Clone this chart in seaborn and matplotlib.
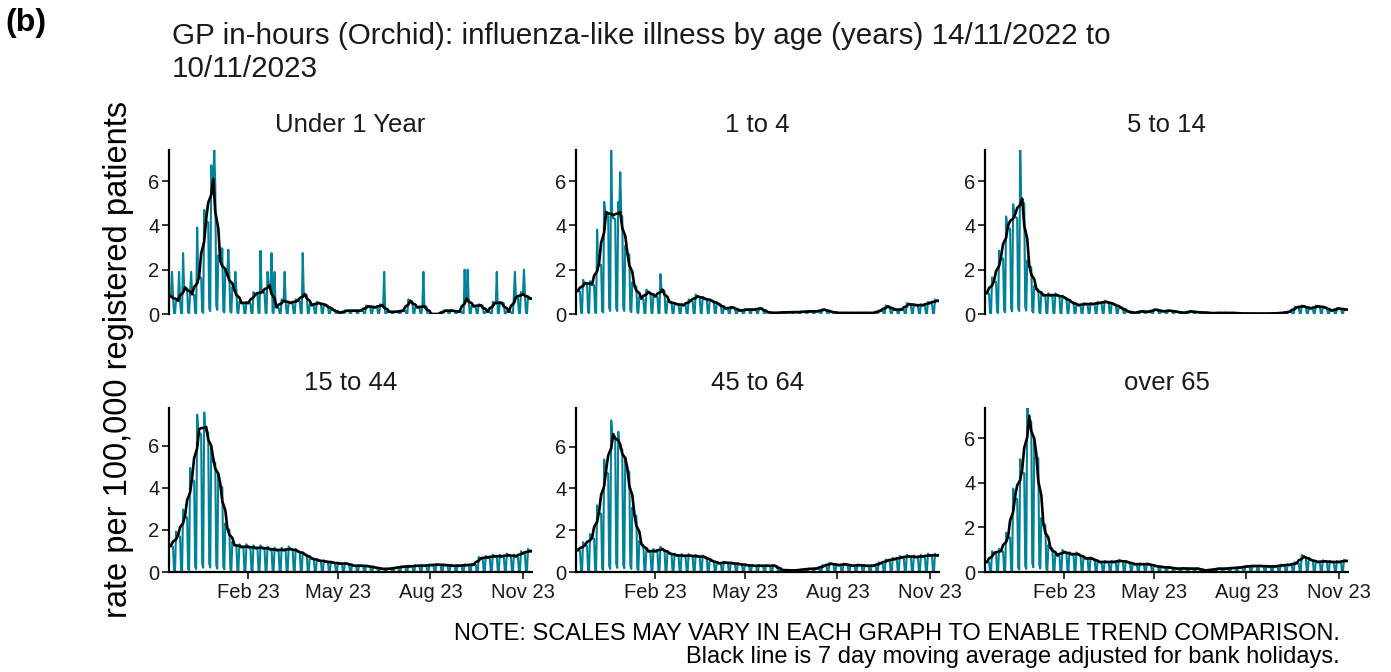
import numpy as np
import pandas as pd
import matplotlib
matplotlib.use("Agg")
import matplotlib.pyplot as plt
import matplotlib.dates as mdates
import seaborn as sns

# ---------------- data ----------------
start_date = "2022-11-14"
end_date = "2023-11-10"

panels = ["Under 1 Year", "1 to 4", "5 to 14", "15 to 44", "45 to 64", "over 65"]

# weekly level of the moving average (weeks starting Monday 14/11/2022)
under_1 = [0.8, 0.6, 1.2, 0.9, 1.7, 4.3, 6.1, 2.4, 1.8, 1.1, 0.5, 0.5, 0.9, 1.0, 1.3, 0.3,
           0.6, 0.5, 0.6, 0.9, 0.4, 0.5, 0.4, 0.2, 0.05, 0.15, 0.15, 0.15, 0.35, 0.3, 0.4, 0.1,
           0.1, 0.15, 0.6, 0.3, 0.35, 0.0, 0.0, 0.15, 0.15, 0.1, 0.7, 0.35, 0.4, 0.1, 0.5, 0.5,
           0.1, 0.75, 0.9, 0.7]
age_1_4 = [1.05, 1.4, 1.35, 2.3, 4.6, 4.45, 4.6, 2.8, 1.3, 0.7, 1.0, 0.8, 1.1, 0.55, 0.45, 0.4,
           0.6, 0.8, 0.7, 0.6, 0.45, 0.25, 0.3, 0.15, 0.2, 0.2, 0.25, 0.08, 0.05, 0.07, 0.08, 0.08,
           0.1, 0.12, 0.12, 0.2, 0.1, 0.05, 0.05, 0.05, 0.05, 0.05, 0.05, 0.15, 0.35, 0.2, 0.2, 0.45,
           0.4, 0.4, 0.5, 0.6]
age_5_14 = [0.95, 1.5, 2.6, 4.0, 4.5, 5.2, 2.2, 1.15, 0.85, 0.85, 0.85, 0.75, 0.55, 0.4, 0.45, 0.45,
            0.5, 0.55, 0.45, 0.3, 0.12, 0.05, 0.12, 0.1, 0.2, 0.12, 0.15, 0.1, 0.05, 0.12, 0.08, 0.07,
            0.04, 0.05, 0.05, 0.05, 0.03, 0.02, 0.02, 0.02, 0.02, 0.03, 0.05, 0.1, 0.3, 0.35, 0.25, 0.35,
            0.3, 0.15, 0.25, 0.2]
age_15_44 = [1.25, 1.75, 2.7, 4.5, 6.8, 6.9, 5.4, 4.2, 2.1, 1.3, 1.2, 1.2, 1.15, 1.15, 1.1, 1.05,
             1.05, 1.1, 1.0, 0.85, 0.65, 0.55, 0.5, 0.45, 0.4, 0.4, 0.3, 0.3, 0.28, 0.22, 0.15, 0.15,
             0.2, 0.25, 0.27, 0.3, 0.3, 0.33, 0.35, 0.33, 0.3, 0.3, 0.33, 0.35, 0.65, 0.7, 0.75, 0.75,
             0.8, 0.75, 0.9, 1.0]
age_45_64 = [1.05, 1.3, 1.65, 2.9, 4.9, 6.6, 6.1, 5.0, 2.8, 1.35, 1.0, 1.0, 1.1, 0.9, 0.8, 0.78,
             0.78, 0.75, 0.72, 0.55, 0.42, 0.45, 0.42, 0.38, 0.33, 0.3, 0.3, 0.3, 0.3, 0.1, 0.08, 0.08,
             0.12, 0.15, 0.17, 0.3, 0.4, 0.33, 0.37, 0.3, 0.33, 0.3, 0.3, 0.42, 0.55, 0.62, 0.7, 0.75,
             0.72, 0.75, 0.8, 0.8]
over_65 = [0.45, 0.85, 0.95, 1.6, 3.4, 4.6, 7.0, 5.3, 2.2, 1.1, 0.75, 0.9, 0.8, 0.8, 0.62, 0.6,
           0.45, 0.45, 0.45, 0.5, 0.45, 0.35, 0.35, 0.35, 0.27, 0.22, 0.2, 0.15, 0.16, 0.15, 0.15, 0.07,
           0.1, 0.15, 0.15, 0.18, 0.2, 0.25, 0.27, 0.27, 0.25, 0.25, 0.3, 0.32, 0.4, 0.7, 0.55, 0.45,
           0.48, 0.45, 0.45, 0.5]

# relative daily level Mon..Sun (weekends close to zero for in-hours GP data)
weekday_profile = [1.1, 1.0, 0.97, 0.97, 0.96, 0.06, 0.03]

# individual daily spikes in the teal series: (day index, rate)
spike_days = {
    "Under 1 Year": [3, 10, 14, 22, 28, 35, 45, 51, 53, 59, 66, 91, 98, 102, 105, 115, 133,
                     214, 253, 294, 297, 326, 344, 353],
    "1 to 4": [21, 35, 44, 84],
    "5 to 14": [35],
}
spike_vals = {
    "Under 1 Year": [1.9, 1.9, 2.75, 1.9, 3.9, 4.7, 7.4, 3.0, 2.95, 2.9, 1.9, 2.85, 1.9, 2.75,
                     1.9, 1.9, 2.75, 1.9, 1.9, 2.0, 2.0, 1.9, 1.9, 2.0],
    "1 to 4": [3.8, 7.4, 6.4, 1.8],
    "5 to 14": [7.4],
}

y_tops = [7.4, 7.4, 7.4, 7.8, 7.85, 7.35]

title = ("GP in-hours (Orchid): influenza-like illness by age (years) 14/11/2022 to\n"
         "10/11/2023")
ylabel = "rate per 100,000 registered patients"
note = ("NOTE: SCALES MAY VARY IN EACH GRAPH TO ENABLE TREND COMPARISON.\n"
        "Black line is 7 day moving average adjusted for bank holidays.")
xtick_dates = ["2023-02-01", "2023-05-01", "2023-08-01", "2023-11-01"]
yticks = [0, 2, 4, 6]

# ---------------- build tables ----------------
dates = pd.date_range(start_date, end_date, freq="D")
series = [under_1, age_1_4, age_5_14, age_15_44, age_45_64, over_65]
frames_daily, frames_ma = [], []
for name, weekly in zip(panels, series):
    week_idx = np.arange(len(dates)) // 7
    dow = dates.dayofweek.values
    level = np.array(weekly)[week_idx]
    daily = level * np.array(weekday_profile)[dow]
    # moving average over working days
    wk = pd.Series(level[dow < 5], index=dates[dow < 5])
    ma = wk.rolling(5, center=True, min_periods=1).mean()
    if name in spike_days:
        daily = daily.copy()
        daily[spike_days[name]] = spike_vals[name]
    frames_daily.append(pd.DataFrame({"date": dates, "rate": daily, "panel": name}))
    frames_ma.append(pd.DataFrame({"date": ma.index, "rate": ma.values, "panel": name}))
df_daily = pd.concat(frames_daily, ignore_index=True)
df_ma = pd.concat(frames_ma, ignore_index=True)

# ---------------- plot ----------------
sns.set_theme(style="white")
plt.rcParams["font.family"] = ["Liberation Sans", "DejaVu Sans"]

W, H = 1391, 672
fig = plt.figure(figsize=(W / 100, H / 100), dpi=100)

lefts = [169, 576, 985]
bottoms = [314, 572]
pw, ph = 363, 164
teal = "#00829A"
txt = "#1a1a1a"

for i, name in enumerate(panels):
    r, c = divmod(i, 3)
    ax = fig.add_axes([lefts[c] / W, 1 - bottoms[r] / H, pw / W, ph / H])
    sns.lineplot(data=df_daily[df_daily.panel == name], x="date", y="rate", ax=ax,
                 color=teal, linewidth=1.5, estimator=None)
    sns.lineplot(data=df_ma[df_ma.panel == name], x="date", y="rate", ax=ax,
                 color="black", linewidth=1.9, estimator=None)
    ax.set_xlim(dates[0], dates[-1])
    ax.set_ylim(0, y_tops[i])
    ax.set_yticks(yticks)
    ax.set_xlabel("")
    ax.set_ylabel("")
    for s in ["top", "right"]:
        ax.spines[s].set_visible(False)
    ax.spines["left"].set_color("black")
    ax.spines["left"].set_linewidth(1.6)
    ax.tick_params(axis="y", length=5, width=1.4, color="#333333", labelsize=14.5,
                   labelcolor=txt, pad=2, left=True)
    ax.set_xticks(pd.to_datetime(xtick_dates))
    ax.xaxis.set_major_formatter(mdates.DateFormatter("%b %y"))
    if r == 0:
        ax.spines["bottom"].set_visible(False)
        ax.tick_params(axis="x", bottom=False, labelbottom=False)
    else:
        ax.spines["bottom"].set_color("black")
        ax.spines["bottom"].set_linewidth(1.6)
        ax.tick_params(axis="x", length=5, width=1.4, color="#333333", labelsize=14.5,
                       labelcolor=txt, pad=3, bottom=True)
    ax.set_facecolor("white")
    ax.text(0.5, 1 + 25 / ph, name, transform=ax.transAxes, ha="center", va="center",
            fontsize=18.5, color=txt)

fig.text(5 / W, 1 - 8 / H, "(b)", fontsize=23, fontweight="bold", ha="left", va="top",
         color="black")
fig.text(172 / W, 1 - 22 / H, title, fontsize=21.3, ha="left", va="top", color=txt,
         linespacing=1.22)
fig.text(118 / W, 1 - 360 / H, ylabel, rotation=90, fontsize=23.5, ha="center", va="center",
         color="black")
fig.text(1340 / W, 1 - 623 / H, note, fontsize=17, ha="right", va="top", color="black",
         linespacing=1.05)

fig.savefig("out.png", dpi=100, facecolor="white")
